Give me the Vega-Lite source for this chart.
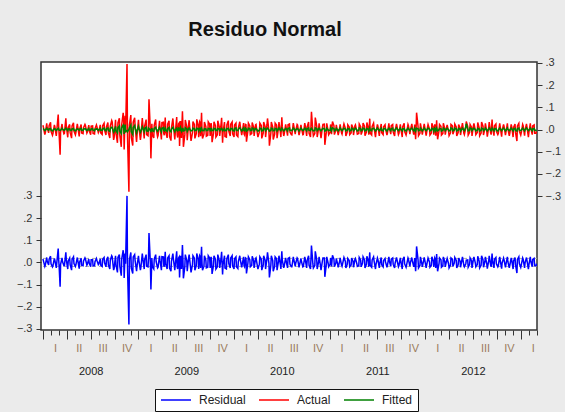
{
"$schema":"https://vega.github.io/schema/vega-lite/v6.json",
"width":496,"height":268,
"autosize":"none",
"padding":{"left":41,"top":62,"right":28,"bottom":82},
"background":"#ebebeb",
"title":{"text":"Residuo Normal","font":"Liberation Sans","fontSize":20,"fontWeight":"bold","color":"#111111","anchor":"middle","frame":"group","baseline":"alphabetic","offset":1,"dx":-24},
"config":{"view":{"stroke":"#333333","strokeWidth":1.5,"fill":"#ffffff"},"axis":{"labelFont":"Liberation Sans","labelFontSize":11,"labelColor":"#333333","tickColor":"#333333","tickWidth":1,"grid":false,"domain":false}},
"datasets":{
"bands":[{"v":0.018},{"v":-0.018}],
"main":[
{"t":2008.00,"r":0.015,"a":0.019,"f":0.004},
{"t":2008.02,"r":-0.018,"a":-0.023,"f":-0.005},
{"t":2008.04,"r":0.022,"a":0.028,"f":0.006},
{"t":2008.06,"r":-0.012,"a":-0.015,"f":-0.003},
{"t":2008.08,"r":0.028,"a":0.033,"f":0.005},
{"t":2008.10,"r":-0.02,"a":-0.026,"f":-0.006},
{"t":2008.12,"r":0.018,"a":0.021,"f":0.003},
{"t":2008.14,"r":-0.025,"a":-0.029,"f":-0.004},
{"t":2008.16,"r":0.062,"a":0.068,"f":0.006},
{"t":2008.17,"r":-0.02,"a":-0.023,"f":-0.003},
{"t":2008.18,"r":-0.11,"a":-0.114,"f":-0.004},
{"t":2008.20,"r":0.02,"a":0.025,"f":0.005},
{"t":2008.22,"r":-0.015,"a":-0.019,"f":-0.004},
{"t":2008.24,"r":0.045,"a":0.051,"f":0.006},
{"t":2008.26,"r":-0.03,"a":-0.035,"f":-0.005},
{"t":2008.28,"r":0.02,"a":0.023,"f":0.003},
{"t":2008.30,"r":-0.035,"a":-0.039,"f":-0.004},
{"t":2008.32,"r":0.025,"a":0.03,"f":0.005},
{"t":2008.34,"r":-0.018,"a":-0.024,"f":-0.006},
{"t":2008.36,"r":0.022,"a":0.026,"f":0.004},
{"t":2008.38,"r":-0.028,"a":-0.031,"f":-0.003},
{"t":2008.40,"r":0.018,"a":0.023,"f":0.005},
{"t":2008.42,"r":-0.015,"a":-0.019,"f":-0.004},
{"t":2008.44,"r":0.02,"a":0.023,"f":0.003},
{"t":2008.46,"r":-0.012,"a":-0.016,"f":-0.004},
{"t":2008.48,"r":0.015,"a":0.02,"f":0.005},
{"t":2008.50,"r":-0.02,"a":-0.023,"f":-0.003},
{"t":2008.52,"r":0.012,"a":0.016,"f":0.004},
{"t":2008.54,"r":-0.015,"a":-0.02,"f":-0.005},
{"t":2008.56,"r":0.018,"a":0.021,"f":0.003},
{"t":2008.58,"r":-0.01,"a":-0.014,"f":-0.004},
{"t":2008.60,"r":0.016,"a":0.021,"f":0.005},
{"t":2008.62,"r":-0.018,"a":-0.022,"f":-0.004},
{"t":2008.64,"r":0.022,"a":0.028,"f":0.006},
{"t":2008.66,"r":-0.02,"a":-0.025,"f":-0.005},
{"t":2008.68,"r":0.025,"a":0.032,"f":0.007},
{"t":2008.70,"r":-0.03,"a":-0.038,"f":-0.008},
{"t":2008.72,"r":0.03,"a":0.04,"f":0.01},
{"t":2008.74,"r":-0.035,"a":-0.047,"f":-0.012},
{"t":2008.76,"r":0.03,"a":0.044,"f":0.014},
{"t":2008.78,"r":-0.045,"a":-0.06,"f":-0.015},
{"t":2008.80,"r":0.035,"a":0.051,"f":0.016},
{"t":2008.82,"r":-0.06,"a":-0.078,"f":-0.018},
{"t":2008.84,"r":0.055,"a":0.075,"f":0.02},
{"t":2008.85,"r":-0.07,"a":-0.09,"f":-0.02},
{"t":2008.86,"r":0.04,"a":0.062,"f":0.022},
{"t":2008.88,"r":0.30,"a":0.295,"f":-0.005},
{"t":2008.90,"r":-0.28,"a":-0.28,"f":0.0},
{"t":2008.92,"r":0.045,"a":0.065,"f":0.02},
{"t":2008.94,"r":-0.05,"a":-0.072,"f":-0.022},
{"t":2008.96,"r":0.035,"a":0.053,"f":0.018},
{"t":2008.98,"r":-0.04,"a":-0.056,"f":-0.016},
{"t":2009.00,"r":0.03,"a":0.044,"f":0.014},
{"t":2009.02,"r":-0.035,"a":-0.047,"f":-0.012},
{"t":2009.04,"r":0.04,"a":0.052,"f":0.012},
{"t":2009.06,"r":-0.03,"a":-0.04,"f":-0.01},
{"t":2009.08,"r":0.035,"a":0.045,"f":0.01},
{"t":2009.10,"r":-0.02,"a":-0.028,"f":-0.008},
{"t":2009.11,"r":0.132,"a":0.136,"f":0.004},
{"t":2009.13,"r":-0.122,"a":-0.13,"f":-0.008},
{"t":2009.14,"r":0.02,"a":0.026,"f":0.006},
{"t":2009.16,"r":-0.03,"a":-0.038,"f":-0.008},
{"t":2009.18,"r":0.035,"a":0.045,"f":0.01},
{"t":2009.20,"r":-0.025,"a":-0.033,"f":-0.008},
{"t":2009.22,"r":0.03,"a":0.039,"f":0.009},
{"t":2009.24,"r":-0.035,"a":-0.045,"f":-0.01},
{"t":2009.26,"r":0.025,"a":0.033,"f":0.008},
{"t":2009.27,"r":-0.02,"a":-0.026,"f":-0.006},
{"t":2009.28,"r":0.048,"a":0.054,"f":0.006},
{"t":2009.30,"r":-0.03,"a":-0.038,"f":-0.008},
{"t":2009.32,"r":0.03,"a":0.039,"f":0.009},
{"t":2009.34,"r":-0.04,"a":-0.05,"f":-0.01},
{"t":2009.36,"r":0.04,"a":0.05,"f":0.01},
{"t":2009.38,"r":-0.035,"a":-0.045,"f":-0.01},
{"t":2009.40,"r":0.05,"a":0.056,"f":0.006},
{"t":2009.41,"r":-0.03,"a":-0.036,"f":-0.006},
{"t":2009.42,"r":0.02,"a":0.026,"f":0.006},
{"t":2009.43,"r":-0.068,"a":-0.074,"f":-0.006},
{"t":2009.44,"r":0.03,"a":0.038,"f":0.008},
{"t":2009.45,"r":-0.03,"a":-0.038,"f":-0.008},
{"t":2009.46,"r":0.078,"a":0.082,"f":0.004},
{"t":2009.47,"r":-0.072,"a":-0.078,"f":-0.006},
{"t":2009.49,"r":0.035,"a":0.043,"f":0.008},
{"t":2009.51,"r":-0.04,"a":-0.048,"f":-0.008},
{"t":2009.53,"r":0.035,"a":0.042,"f":0.007},
{"t":2009.55,"r":-0.045,"a":-0.051,"f":-0.006},
{"t":2009.57,"r":0.03,"a":0.036,"f":0.006},
{"t":2009.59,"r":-0.035,"a":-0.04,"f":-0.005},
{"t":2009.61,"r":0.04,"a":0.046,"f":0.006},
{"t":2009.63,"r":-0.03,"a":-0.035,"f":-0.005},
{"t":2009.64,"r":0.03,"a":0.035,"f":0.005},
{"t":2009.65,"r":-0.025,"a":-0.03,"f":-0.005},
{"t":2009.66,"r":0.07,"a":0.075,"f":0.005},
{"t":2009.67,"r":-0.035,"a":-0.04,"f":-0.005},
{"t":2009.69,"r":0.03,"a":0.034,"f":0.004},
{"t":2009.71,"r":-0.025,"a":-0.03,"f":-0.005},
{"t":2009.73,"r":0.03,"a":0.035,"f":0.005},
{"t":2009.75,"r":-0.025,"a":-0.029,"f":-0.004},
{"t":2009.76,"r":0.025,"a":0.029,"f":0.004},
{"t":2009.77,"r":-0.052,"a":-0.057,"f":-0.005},
{"t":2009.79,"r":0.03,"a":0.035,"f":0.005},
{"t":2009.81,"r":-0.03,"a":-0.034,"f":-0.004},
{"t":2009.83,"r":0.035,"a":0.04,"f":0.005},
{"t":2009.85,"r":-0.025,"a":-0.029,"f":-0.004},
{"t":2009.87,"r":0.048,"a":0.053,"f":0.005},
{"t":2009.88,"r":-0.055,"a":-0.06,"f":-0.005},
{"t":2009.90,"r":0.03,"a":0.034,"f":0.004},
{"t":2009.92,"r":-0.03,"a":-0.034,"f":-0.004},
{"t":2009.94,"r":0.035,"a":0.04,"f":0.005},
{"t":2009.96,"r":-0.025,"a":-0.029,"f":-0.004},
{"t":2009.98,"r":0.03,"a":0.034,"f":0.004},
{"t":2010.00,"r":-0.03,"a":-0.034,"f":-0.006},
{"t":2010.02,"r":0.025,"a":0.029,"f":0.007},
{"t":2010.04,"r":-0.028,"a":-0.032,"f":-0.005},
{"t":2010.06,"r":0.03,"a":0.035,"f":0.008},
{"t":2010.08,"r":-0.022,"a":-0.025,"f":-0.006},
{"t":2010.10,"r":0.025,"a":0.029,"f":0.007},
{"t":2010.11,"r":-0.02,"a":-0.024,"f":-0.005},
{"t":2010.12,"r":0.02,"a":0.023,"f":0.006},
{"t":2010.13,"r":-0.05,"a":-0.055,"f":-0.007},
{"t":2010.15,"r":0.025,"a":0.029,"f":0.006},
{"t":2010.17,"r":-0.02,"a":-0.023,"f":-0.005},
{"t":2010.19,"r":0.028,"a":0.032,"f":0.007},
{"t":2010.21,"r":-0.025,"a":-0.029,"f":-0.006},
{"t":2010.23,"r":0.02,"a":0.023,"f":0.005},
{"t":2010.25,"r":-0.03,"a":-0.034,"f":-0.007},
{"t":2010.27,"r":0.025,"a":0.029,"f":0.006},
{"t":2010.29,"r":-0.035,"a":-0.04,"f":-0.006},
{"t":2010.31,"r":0.03,"a":0.034,"f":0.007},
{"t":2010.33,"r":-0.03,"a":-0.034,"f":-0.005},
{"t":2010.35,"r":0.045,"a":0.05,"f":0.006},
{"t":2010.37,"r":-0.068,"a":-0.073,"f":-0.007},
{"t":2010.39,"r":0.03,"a":0.034,"f":0.006},
{"t":2010.41,"r":-0.04,"a":-0.045,"f":-0.006},
{"t":2010.43,"r":0.025,"a":0.029,"f":0.005},
{"t":2010.45,"r":-0.035,"a":-0.039,"f":-0.006},
{"t":2010.47,"r":0.03,"a":0.034,"f":0.007},
{"t":2010.49,"r":-0.03,"a":-0.034,"f":-0.005},
{"t":2010.50,"r":0.05,"a":0.055,"f":0.006},
{"t":2010.52,"r":-0.025,"a":-0.029,"f":-0.006},
{"t":2010.54,"r":0.02,"a":0.023,"f":0.005},
{"t":2010.56,"r":-0.025,"a":-0.028,"f":-0.006},
{"t":2010.58,"r":0.022,"a":0.025,"f":0.007},
{"t":2010.60,"r":-0.02,"a":-0.023,"f":-0.005},
{"t":2010.62,"r":0.025,"a":0.029,"f":0.006},
{"t":2010.64,"r":-0.018,"a":-0.021,"f":-0.006},
{"t":2010.66,"r":0.02,"a":0.023,"f":0.005},
{"t":2010.68,"r":-0.022,"a":-0.025,"f":-0.007},
{"t":2010.70,"r":0.018,"a":0.021,"f":0.006},
{"t":2010.72,"r":-0.02,"a":-0.023,"f":-0.005},
{"t":2010.74,"r":0.025,"a":0.029,"f":0.006},
{"t":2010.76,"r":-0.025,"a":-0.029,"f":-0.006},
{"t":2010.78,"r":0.03,"a":0.034,"f":0.007},
{"t":2010.80,"r":-0.03,"a":-0.034,"f":-0.005},
{"t":2010.81,"r":0.076,"a":0.08,"f":0.006},
{"t":2010.83,"r":-0.025,"a":-0.029,"f":-0.006},
{"t":2010.85,"r":0.05,"a":0.054,"f":0.007},
{"t":2010.87,"r":-0.03,"a":-0.034,"f":-0.005},
{"t":2010.89,"r":0.025,"a":0.028,"f":0.006},
{"t":2010.91,"r":-0.035,"a":-0.039,"f":-0.006},
{"t":2010.93,"r":0.02,"a":0.023,"f":0.005},
{"t":2010.95,"r":-0.065,"a":-0.069,"f":-0.007},
{"t":2010.97,"r":0.025,"a":0.028,"f":0.006},
{"t":2010.99,"r":-0.02,"a":-0.023,"f":-0.005},
{"t":2011.01,"r":0.02,"a":0.023,"f":0.006},
{"t":2011.02,"r":-0.018,"a":-0.021,"f":-0.005},
{"t":2011.03,"r":0.032,"a":0.036,"f":0.007},
{"t":2011.05,"r":-0.02,"a":-0.023,"f":-0.006},
{"t":2011.07,"r":0.018,"a":0.021,"f":0.005},
{"t":2011.09,"r":-0.022,"a":-0.025,"f":-0.006},
{"t":2011.11,"r":0.02,"a":0.023,"f":0.007},
{"t":2011.13,"r":-0.018,"a":-0.021,"f":-0.005},
{"t":2011.15,"r":0.022,"a":0.025,"f":0.006},
{"t":2011.17,"r":-0.025,"a":-0.029,"f":-0.006},
{"t":2011.19,"r":0.018,"a":0.021,"f":0.005},
{"t":2011.21,"r":-0.02,"a":-0.023,"f":-0.007},
{"t":2011.23,"r":0.02,"a":0.023,"f":0.006},
{"t":2011.25,"r":-0.022,"a":-0.025,"f":-0.005},
{"t":2011.27,"r":0.018,"a":0.021,"f":0.006},
{"t":2011.29,"r":-0.018,"a":-0.021,"f":-0.006},
{"t":2011.31,"r":0.022,"a":0.025,"f":0.007},
{"t":2011.33,"r":-0.02,"a":-0.023,"f":-0.005},
{"t":2011.35,"r":0.025,"a":0.029,"f":0.006},
{"t":2011.37,"r":-0.025,"a":-0.028,"f":-0.006},
{"t":2011.39,"r":0.028,"a":0.032,"f":0.005},
{"t":2011.41,"r":-0.02,"a":-0.023,"f":-0.007},
{"t":2011.42,"r":0.045,"a":0.049,"f":0.006},
{"t":2011.44,"r":-0.022,"a":-0.025,"f":-0.005},
{"t":2011.46,"r":0.025,"a":0.029,"f":0.006},
{"t":2011.48,"r":-0.03,"a":-0.034,"f":-0.006},
{"t":2011.50,"r":0.02,"a":0.023,"f":0.007},
{"t":2011.52,"r":-0.025,"a":-0.029,"f":-0.005},
{"t":2011.54,"r":0.022,"a":0.025,"f":0.006},
{"t":2011.56,"r":-0.02,"a":-0.023,"f":-0.006},
{"t":2011.58,"r":0.018,"a":0.021,"f":0.005},
{"t":2011.60,"r":-0.022,"a":-0.025,"f":-0.007},
{"t":2011.62,"r":0.025,"a":0.028,"f":0.006},
{"t":2011.64,"r":-0.018,"a":-0.021,"f":-0.005},
{"t":2011.66,"r":0.02,"a":0.023,"f":0.006},
{"t":2011.68,"r":-0.025,"a":-0.029,"f":-0.006},
{"t":2011.70,"r":0.022,"a":0.025,"f":0.007},
{"t":2011.72,"r":-0.02,"a":-0.023,"f":-0.005},
{"t":2011.74,"r":0.02,"a":0.023,"f":0.006},
{"t":2011.76,"r":-0.03,"a":-0.034,"f":-0.006},
{"t":2011.78,"r":0.025,"a":0.028,"f":0.005},
{"t":2011.80,"r":-0.022,"a":-0.025,"f":-0.007},
{"t":2011.82,"r":0.02,"a":0.023,"f":0.006},
{"t":2011.84,"r":-0.018,"a":-0.021,"f":-0.005},
{"t":2011.86,"r":0.022,"a":0.025,"f":0.006},
{"t":2011.88,"r":-0.02,"a":-0.023,"f":-0.006},
{"t":2011.89,"r":0.02,"a":0.023,"f":0.005},
{"t":2011.90,"r":-0.04,"a":-0.044,"f":-0.007},
{"t":2011.91,"r":0.072,"a":0.076,"f":0.006},
{"t":2011.93,"r":-0.025,"a":-0.028,"f":-0.005},
{"t":2011.95,"r":0.025,"a":0.028,"f":0.006},
{"t":2011.97,"r":-0.02,"a":-0.023,"f":-0.006},
{"t":2011.99,"r":0.022,"a":0.025,"f":0.007},
{"t":2012.01,"r":-0.025,"a":-0.028,"f":-0.005},
{"t":2012.03,"r":0.02,"a":0.023,"f":0.006},
{"t":2012.05,"r":-0.022,"a":-0.025,"f":-0.006},
{"t":2012.07,"r":0.025,"a":0.028,"f":0.005},
{"t":2012.09,"r":-0.02,"a":-0.023,"f":-0.007},
{"t":2012.10,"r":0.02,"a":0.023,"f":0.006},
{"t":2012.11,"r":-0.025,"a":-0.028,"f":-0.005},
{"t":2012.12,"r":0.038,"a":0.042,"f":0.006},
{"t":2012.13,"r":-0.04,"a":-0.044,"f":-0.006},
{"t":2012.15,"r":0.02,"a":0.023,"f":0.005},
{"t":2012.17,"r":-0.022,"a":-0.025,"f":-0.007},
{"t":2012.19,"r":0.025,"a":0.028,"f":0.006},
{"t":2012.21,"r":-0.02,"a":-0.023,"f":-0.005},
{"t":2012.23,"r":0.018,"a":0.021,"f":0.006},
{"t":2012.25,"r":-0.025,"a":-0.028,"f":-0.006},
{"t":2012.27,"r":0.02,"a":0.023,"f":0.007},
{"t":2012.29,"r":-0.018,"a":-0.021,"f":-0.005},
{"t":2012.31,"r":0.022,"a":0.025,"f":0.006},
{"t":2012.33,"r":-0.025,"a":-0.029,"f":-0.006},
{"t":2012.35,"r":0.02,"a":0.023,"f":0.005},
{"t":2012.37,"r":-0.022,"a":-0.025,"f":-0.007},
{"t":2012.39,"r":0.025,"a":0.029,"f":0.006},
{"t":2012.41,"r":-0.02,"a":-0.023,"f":-0.005},
{"t":2012.43,"r":0.01,"a":0.036,"f":0.026},
{"t":2012.45,"r":-0.022,"a":-0.025,"f":-0.006},
{"t":2012.47,"r":0.02,"a":0.023,"f":0.007},
{"t":2012.49,"r":-0.025,"a":-0.029,"f":-0.005},
{"t":2012.51,"r":0.025,"a":0.028,"f":0.006},
{"t":2012.53,"r":-0.02,"a":-0.023,"f":-0.006},
{"t":2012.55,"r":0.028,"a":0.032,"f":0.005},
{"t":2012.57,"r":-0.025,"a":-0.028,"f":-0.007},
{"t":2012.59,"r":0.03,"a":0.034,"f":0.006},
{"t":2012.61,"r":-0.022,"a":-0.025,"f":-0.005},
{"t":2012.63,"r":0.025,"a":0.028,"f":0.006},
{"t":2012.65,"r":-0.028,"a":-0.032,"f":-0.006},
{"t":2012.67,"r":0.03,"a":0.034,"f":0.007},
{"t":2012.69,"r":-0.02,"a":-0.023,"f":-0.005},
{"t":2012.70,"r":0.04,"a":0.045,"f":0.006},
{"t":2012.72,"r":-0.025,"a":-0.028,"f":-0.006},
{"t":2012.74,"r":0.022,"a":0.025,"f":0.005},
{"t":2012.76,"r":-0.02,"a":-0.023,"f":-0.007},
{"t":2012.78,"r":0.025,"a":0.028,"f":0.006},
{"t":2012.80,"r":-0.028,"a":-0.032,"f":-0.005},
{"t":2012.82,"r":0.02,"a":0.023,"f":0.006},
{"t":2012.84,"r":-0.022,"a":-0.025,"f":-0.006},
{"t":2012.86,"r":0.025,"a":0.028,"f":0.007},
{"t":2012.88,"r":-0.025,"a":-0.028,"f":-0.005},
{"t":2012.90,"r":0.02,"a":0.023,"f":0.006},
{"t":2012.92,"r":-0.03,"a":-0.034,"f":-0.006},
{"t":2012.94,"r":0.022,"a":0.025,"f":0.005},
{"t":2012.96,"r":-0.048,"a":-0.052,"f":-0.007},
{"t":2012.98,"r":0.025,"a":0.028,"f":0.006},
{"t":2013.00,"r":-0.022,"a":-0.025,"f":-0.005},
{"t":2013.02,"r":0.02,"a":0.023,"f":0.006},
{"t":2013.04,"r":-0.025,"a":-0.028,"f":-0.006},
{"t":2013.06,"r":0.022,"a":0.025,"f":0.007},
{"t":2013.08,"r":-0.03,"a":-0.034,"f":-0.005},
{"t":2013.10,"r":0.025,"a":0.028,"f":0.006},
{"t":2013.12,"r":-0.02,"a":-0.023,"f":-0.006},
{"t":2013.14,"r":0.018,"a":0.021,"f":0.005},
{"t":2013.16,"r":-0.015,"a":-0.017,"f":-0.004},
{"t":2008.005,"r":0.008,"a":0.011,"f":0.003},
{"t":2008.025,"r":-0.012,"a":-0.015,"f":-0.003},
{"t":2008.045,"r":0.005,"a":0.007,"f":0.002},
{"t":2008.065,"r":0.014,"a":0.017,"f":0.003},
{"t":2008.085,"r":-0.006,"a":-0.008,"f":-0.002},
{"t":2008.105,"r":-0.015,"a":-0.018,"f":-0.003},
{"t":2008.125,"r":0.01,"a":0.013,"f":0.003},
{"t":2008.145,"r":-0.003,"a":-0.005,"f":-0.002},
{"t":2008.165,"r":0.012,"a":0.015,"f":0.003},
{"t":2008.185,"r":-0.009,"a":-0.012,"f":-0.003},
{"t":2008.205,"r":0.004,"a":0.006,"f":0.002},
{"t":2008.225,"r":-0.014,"a":-0.017,"f":-0.003},
{"t":2008.245,"r":0.011,"a":0.014,"f":0.003},
{"t":2008.265,"r":0.007,"a":0.009,"f":0.002},
{"t":2008.285,"r":-0.01,"a":-0.013,"f":-0.003},
{"t":2008.305,"r":0.013,"a":0.016,"f":0.003},
{"t":2008.325,"r":-0.005,"a":-0.007,"f":-0.002},
{"t":2008.345,"r":-0.011,"a":-0.014,"f":-0.003},
{"t":2008.365,"r":0.009,"a":0.012,"f":0.003},
{"t":2008.385,"r":0.002,"a":0.003,"f":0.001},
{"t":2008.405,"r":-0.013,"a":-0.016,"f":-0.003},
{"t":2008.425,"r":0.006,"a":0.008,"f":0.002},
{"t":2008.445,"r":0.015,"a":0.018,"f":0.003},
{"t":2008.465,"r":-0.008,"a":-0.011,"f":-0.003},
{"t":2008.485,"r":-0.004,"a":-0.006,"f":-0.002},
{"t":2008.505,"r":0.012,"a":0.015,"f":0.003},
{"t":2008.525,"r":-0.015,"a":-0.018,"f":-0.003},
{"t":2008.545,"r":0.003,"a":0.004,"f":0.001},
{"t":2008.565,"r":0.01,"a":0.013,"f":0.003},
{"t":2008.585,"r":-0.007,"a":-0.009,"f":-0.002},
{"t":2008.605,"r":-0.012,"a":-0.015,"f":-0.003},
{"t":2008.625,"r":0.014,"a":0.017,"f":0.003},
{"t":2008.645,"r":-0.002,"a":-0.003,"f":-0.001},
{"t":2008.665,"r":0.009,"a":0.012,"f":0.003},
{"t":2008.685,"r":-0.011,"a":-0.014,"f":-0.003},
{"t":2008.705,"r":0.01,"a":0.015,"f":0.005},
{"t":2008.725,"r":0.026,"a":0.034,"f":0.008},
{"t":2008.745,"r":-0.028,"a":-0.037,"f":-0.009},
{"t":2008.765,"r":-0.012,"a":-0.017,"f":-0.005},
{"t":2008.785,"r":0.022,"a":0.03,"f":0.008},
{"t":2008.805,"r":-0.018,"a":-0.025,"f":-0.007},
{"t":2008.825,"r":0.016,"a":0.024,"f":0.008},
{"t":2008.845,"r":0.03,"a":0.042,"f":0.012},
{"t":2008.865,"r":-0.006,"a":-0.014,"f":-0.008},
{"t":2008.885,"r":-0.02,"a":-0.03,"f":-0.01},
{"t":2008.905,"r":0.012,"a":0.02,"f":0.008},
{"t":2008.925,"r":-0.026,"a":-0.036,"f":-0.01},
{"t":2008.945,"r":0.024,"a":0.033,"f":0.009},
{"t":2008.965,"r":0.008,"a":0.013,"f":0.005},
{"t":2008.985,"r":-0.016,"a":-0.023,"f":-0.007},
{"t":2009.005,"r":0.007,"a":0.012,"f":0.005},
{"t":2009.025,"r":-0.024,"a":-0.031,"f":-0.007},
{"t":2009.045,"r":0.019,"a":0.025,"f":0.006},
{"t":2009.065,"r":0.012,"a":0.017,"f":0.005},
{"t":2009.085,"r":-0.017,"a":-0.023,"f":-0.006},
{"t":2009.105,"r":0.022,"a":0.028,"f":0.006},
{"t":2009.125,"r":-0.009,"a":-0.013,"f":-0.004},
{"t":2009.145,"r":-0.019,"a":-0.024,"f":-0.005},
{"t":2009.165,"r":0.015,"a":0.02,"f":0.005},
{"t":2009.185,"r":0.003,"a":0.005,"f":0.002},
{"t":2009.205,"r":-0.022,"a":-0.027,"f":-0.005},
{"t":2009.225,"r":0.01,"a":0.014,"f":0.004},
{"t":2009.245,"r":0.026,"a":0.031,"f":0.005},
{"t":2009.265,"r":-0.014,"a":-0.018,"f":-0.004},
{"t":2009.285,"r":-0.007,"a":-0.01,"f":-0.003},
{"t":2009.305,"r":0.02,"a":0.024,"f":0.004},
{"t":2009.325,"r":-0.026,"a":-0.031,"f":-0.005},
{"t":2009.345,"r":0.005,"a":0.007,"f":0.002},
{"t":2009.365,"r":0.017,"a":0.021,"f":0.004},
{"t":2009.385,"r":-0.012,"a":-0.016,"f":-0.004},
{"t":2009.405,"r":-0.02,"a":-0.024,"f":-0.004},
{"t":2009.425,"r":0.024,"a":0.029,"f":0.005},
{"t":2009.445,"r":-0.003,"a":-0.005,"f":-0.002},
{"t":2009.465,"r":0.015,"a":0.019,"f":0.004},
{"t":2009.485,"r":-0.019,"a":-0.023,"f":-0.004},
{"t":2009.505,"r":0.009,"a":0.012,"f":0.003},
{"t":2009.525,"r":0.022,"a":0.026,"f":0.004},
{"t":2009.545,"r":-0.024,"a":-0.029,"f":-0.005},
{"t":2009.565,"r":-0.01,"a":-0.013,"f":-0.003},
{"t":2009.585,"r":0.019,"a":0.023,"f":0.004},
{"t":2009.605,"r":-0.015,"a":-0.019,"f":-0.004},
{"t":2009.625,"r":0.014,"a":0.018,"f":0.004},
{"t":2009.645,"r":0.026,"a":0.031,"f":0.005},
{"t":2009.665,"r":-0.005,"a":-0.007,"f":-0.002},
{"t":2009.685,"r":-0.017,"a":-0.021,"f":-0.004},
{"t":2009.705,"r":0.01,"a":0.013,"f":0.003},
{"t":2009.725,"r":-0.022,"a":-0.026,"f":-0.004},
{"t":2009.745,"r":0.02,"a":0.024,"f":0.004},
{"t":2009.765,"r":0.007,"a":0.01,"f":0.003},
{"t":2009.785,"r":-0.014,"a":-0.018,"f":-0.004},
{"t":2009.805,"r":0.014,"a":0.018,"f":0.004},
{"t":2009.825,"r":-0.02,"a":-0.024,"f":-0.004},
{"t":2009.845,"r":0.009,"a":0.012,"f":0.003},
{"t":2009.865,"r":0.024,"a":0.028,"f":0.004},
{"t":2009.885,"r":-0.01,"a":-0.013,"f":-0.003},
{"t":2009.905,"r":-0.026,"a":-0.031,"f":-0.005},
{"t":2009.925,"r":0.017,"a":0.021,"f":0.004},
{"t":2009.945,"r":-0.005,"a":-0.007,"f":-0.002},
{"t":2009.965,"r":0.02,"a":0.024,"f":0.004},
{"t":2009.985,"r":-0.015,"a":-0.019,"f":-0.004},
{"t":2010.005,"r":0.016,"a":0.02,"f":0.004},
{"t":2010.025,"r":-0.02,"a":-0.024,"f":-0.004},
{"t":2010.045,"r":0.004,"a":0.006,"f":0.002},
{"t":2010.065,"r":0.013,"a":0.017,"f":0.004},
{"t":2010.085,"r":-0.009,"a":-0.012,"f":-0.003},
{"t":2010.105,"r":-0.016,"a":-0.02,"f":-0.004},
{"t":2010.125,"r":0.018,"a":0.022,"f":0.004},
{"t":2010.145,"r":-0.003,"a":-0.005,"f":-0.002},
{"t":2010.165,"r":0.012,"a":0.016,"f":0.004},
{"t":2010.185,"r":-0.014,"a":-0.018,"f":-0.004},
{"t":2010.205,"r":0.007,"a":0.01,"f":0.003},
{"t":2010.225,"r":0.017,"a":0.021,"f":0.004},
{"t":2010.245,"r":-0.018,"a":-0.022,"f":-0.004},
{"t":2010.265,"r":-0.008,"a":-0.011,"f":-0.003},
{"t":2010.285,"r":0.014,"a":0.018,"f":0.004},
{"t":2010.305,"r":-0.012,"a":-0.016,"f":-0.004},
{"t":2010.325,"r":0.01,"a":0.013,"f":0.003},
{"t":2010.345,"r":0.02,"a":0.024,"f":0.004},
{"t":2010.365,"r":-0.004,"a":-0.006,"f":-0.002},
{"t":2010.385,"r":-0.013,"a":-0.017,"f":-0.004},
{"t":2010.405,"r":0.008,"a":0.011,"f":0.003},
{"t":2010.425,"r":-0.017,"a":-0.021,"f":-0.004},
{"t":2010.445,"r":0.016,"a":0.02,"f":0.004},
{"t":2010.465,"r":0.005,"a":0.007,"f":0.002},
{"t":2010.485,"r":-0.01,"a":-0.013,"f":-0.003},
{"t":2010.505,"r":0.01,"a":0.013,"f":0.003},
{"t":2010.525,"r":-0.016,"a":-0.02,"f":-0.004},
{"t":2010.545,"r":0.007,"a":0.01,"f":0.003},
{"t":2010.565,"r":0.018,"a":0.022,"f":0.004},
{"t":2010.585,"r":-0.008,"a":-0.011,"f":-0.003},
{"t":2010.605,"r":-0.02,"a":-0.024,"f":-0.004},
{"t":2010.625,"r":0.013,"a":0.017,"f":0.004},
{"t":2010.645,"r":-0.004,"a":-0.006,"f":-0.002},
{"t":2010.665,"r":0.016,"a":0.02,"f":0.004},
{"t":2010.685,"r":-0.012,"a":-0.016,"f":-0.004},
{"t":2010.705,"r":0.005,"a":0.007,"f":0.002},
{"t":2010.725,"r":-0.018,"a":-0.022,"f":-0.004},
{"t":2010.745,"r":0.014,"a":0.018,"f":0.004},
{"t":2010.765,"r":0.009,"a":0.012,"f":0.003},
{"t":2010.785,"r":-0.013,"a":-0.017,"f":-0.004},
{"t":2010.805,"r":0.017,"a":0.021,"f":0.004},
{"t":2010.825,"r":-0.007,"a":-0.01,"f":-0.003},
{"t":2010.845,"r":-0.014,"a":-0.018,"f":-0.004},
{"t":2010.865,"r":0.012,"a":0.016,"f":0.004},
{"t":2010.885,"r":0.003,"a":0.005,"f":0.002},
{"t":2010.905,"r":-0.017,"a":-0.021,"f":-0.004},
{"t":2010.925,"r":0.008,"a":0.011,"f":0.003},
{"t":2010.945,"r":0.02,"a":0.024,"f":0.004},
{"t":2010.965,"r":-0.01,"a":-0.013,"f":-0.003},
{"t":2010.985,"r":-0.005,"a":-0.007,"f":-0.002},
{"t":2011.005,"r":-0.009,"a":-0.012,"f":-0.003},
{"t":2011.025,"r":0.008,"a":0.011,"f":0.003},
{"t":2011.045,"r":0.015,"a":0.018,"f":0.003},
{"t":2011.065,"r":-0.003,"a":-0.004,"f":-0.001},
{"t":2011.085,"r":-0.01,"a":-0.013,"f":-0.003},
{"t":2011.105,"r":0.006,"a":0.008,"f":0.002},
{"t":2011.125,"r":-0.013,"a":-0.016,"f":-0.003},
{"t":2011.145,"r":0.012,"a":0.015,"f":0.003},
{"t":2011.165,"r":0.004,"a":0.005,"f":0.001},
{"t":2011.185,"r":-0.008,"a":-0.011,"f":-0.003},
{"t":2011.205,"r":0.008,"a":0.011,"f":0.003},
{"t":2011.225,"r":-0.012,"a":-0.015,"f":-0.003},
{"t":2011.245,"r":0.005,"a":0.007,"f":0.002},
{"t":2011.265,"r":0.014,"a":0.017,"f":0.003},
{"t":2011.285,"r":-0.006,"a":-0.008,"f":-0.002},
{"t":2011.305,"r":-0.015,"a":-0.018,"f":-0.003},
{"t":2011.325,"r":0.01,"a":0.013,"f":0.003},
{"t":2011.345,"r":-0.003,"a":-0.004,"f":-0.001},
{"t":2011.365,"r":0.012,"a":0.015,"f":0.003},
{"t":2011.385,"r":-0.009,"a":-0.012,"f":-0.003},
{"t":2011.405,"r":0.004,"a":0.005,"f":0.001},
{"t":2011.425,"r":-0.014,"a":-0.017,"f":-0.003},
{"t":2011.445,"r":0.011,"a":0.014,"f":0.003},
{"t":2011.465,"r":0.007,"a":0.009,"f":0.002},
{"t":2011.485,"r":-0.01,"a":-0.013,"f":-0.003},
{"t":2011.505,"r":0.013,"a":0.016,"f":0.003},
{"t":2011.525,"r":-0.005,"a":-0.007,"f":-0.002},
{"t":2011.545,"r":-0.011,"a":-0.014,"f":-0.003},
{"t":2011.565,"r":0.009,"a":0.012,"f":0.003},
{"t":2011.585,"r":0.002,"a":0.003,"f":0.001},
{"t":2011.605,"r":-0.013,"a":-0.016,"f":-0.003},
{"t":2011.625,"r":0.006,"a":0.008,"f":0.002},
{"t":2011.645,"r":0.015,"a":0.018,"f":0.003},
{"t":2011.665,"r":-0.008,"a":-0.011,"f":-0.003},
{"t":2011.685,"r":-0.004,"a":-0.005,"f":-0.001},
{"t":2011.705,"r":0.012,"a":0.015,"f":0.003},
{"t":2011.725,"r":-0.015,"a":-0.018,"f":-0.003},
{"t":2011.745,"r":0.003,"a":0.004,"f":0.001},
{"t":2011.765,"r":0.01,"a":0.013,"f":0.003},
{"t":2011.785,"r":-0.007,"a":-0.009,"f":-0.002},
{"t":2011.805,"r":-0.012,"a":-0.015,"f":-0.003},
{"t":2011.825,"r":0.014,"a":0.017,"f":0.003},
{"t":2011.845,"r":-0.002,"a":-0.003,"f":-0.001},
{"t":2011.865,"r":0.009,"a":0.012,"f":0.003},
{"t":2011.885,"r":-0.011,"a":-0.014,"f":-0.003},
{"t":2011.905,"r":0.005,"a":0.007,"f":0.002},
{"t":2011.925,"r":0.013,"a":0.016,"f":0.003},
{"t":2011.945,"r":-0.014,"a":-0.017,"f":-0.003},
{"t":2011.965,"r":-0.006,"a":-0.008,"f":-0.002},
{"t":2011.985,"r":0.011,"a":0.014,"f":0.003},
{"t":2012.005,"r":-0.011,"a":-0.014,"f":-0.003},
{"t":2012.025,"r":0.009,"a":0.012,"f":0.003},
{"t":2012.045,"r":0.002,"a":0.003,"f":0.001},
{"t":2012.065,"r":-0.013,"a":-0.016,"f":-0.003},
{"t":2012.085,"r":0.006,"a":0.008,"f":0.002},
{"t":2012.105,"r":0.015,"a":0.018,"f":0.003},
{"t":2012.125,"r":-0.008,"a":-0.011,"f":-0.003},
{"t":2012.145,"r":-0.004,"a":-0.005,"f":-0.001},
{"t":2012.165,"r":0.012,"a":0.015,"f":0.003},
{"t":2012.185,"r":-0.015,"a":-0.018,"f":-0.003},
{"t":2012.205,"r":0.003,"a":0.004,"f":0.001},
{"t":2012.225,"r":0.01,"a":0.013,"f":0.003},
{"t":2012.245,"r":-0.007,"a":-0.009,"f":-0.002},
{"t":2012.265,"r":-0.012,"a":-0.015,"f":-0.003},
{"t":2012.285,"r":0.014,"a":0.017,"f":0.003},
{"t":2012.305,"r":-0.002,"a":-0.003,"f":-0.001},
{"t":2012.325,"r":0.009,"a":0.012,"f":0.003},
{"t":2012.345,"r":-0.011,"a":-0.014,"f":-0.003},
{"t":2012.365,"r":0.005,"a":0.007,"f":0.002},
{"t":2012.385,"r":0.013,"a":0.016,"f":0.003},
{"t":2012.405,"r":-0.014,"a":-0.017,"f":-0.003},
{"t":2012.425,"r":-0.006,"a":0.006,"f":0.012},
{"t":2012.445,"r":0.011,"a":0.014,"f":0.003},
{"t":2012.465,"r":-0.009,"a":-0.012,"f":-0.003},
{"t":2012.485,"r":0.008,"a":0.011,"f":0.003},
{"t":2012.505,"r":0.015,"a":0.018,"f":0.003},
{"t":2012.525,"r":-0.003,"a":-0.004,"f":-0.001},
{"t":2012.545,"r":-0.01,"a":-0.013,"f":-0.003},
{"t":2012.565,"r":0.006,"a":0.008,"f":0.002},
{"t":2012.585,"r":-0.013,"a":-0.016,"f":-0.003},
{"t":2012.605,"r":0.012,"a":0.015,"f":0.003},
{"t":2012.625,"r":0.004,"a":0.005,"f":0.001},
{"t":2012.645,"r":-0.008,"a":-0.011,"f":-0.003},
{"t":2012.665,"r":0.008,"a":0.011,"f":0.003},
{"t":2012.685,"r":-0.012,"a":-0.015,"f":-0.003},
{"t":2012.705,"r":0.005,"a":0.007,"f":0.002},
{"t":2012.725,"r":0.014,"a":0.017,"f":0.003},
{"t":2012.745,"r":-0.006,"a":-0.008,"f":-0.002},
{"t":2012.765,"r":-0.015,"a":-0.018,"f":-0.003},
{"t":2012.785,"r":0.01,"a":0.013,"f":0.003},
{"t":2012.805,"r":-0.003,"a":-0.004,"f":-0.001},
{"t":2012.825,"r":0.012,"a":0.015,"f":0.003},
{"t":2012.845,"r":-0.009,"a":-0.012,"f":-0.003},
{"t":2012.865,"r":0.004,"a":0.005,"f":0.001},
{"t":2012.885,"r":-0.014,"a":-0.017,"f":-0.003},
{"t":2012.905,"r":0.011,"a":0.014,"f":0.003},
{"t":2012.925,"r":0.007,"a":0.009,"f":0.002},
{"t":2012.945,"r":-0.01,"a":-0.013,"f":-0.003},
{"t":2012.965,"r":0.013,"a":0.016,"f":0.003},
{"t":2012.985,"r":-0.005,"a":-0.007,"f":-0.002},
{"t":2013.005,"r":-0.012,"a":-0.015,"f":-0.003},
{"t":2013.025,"r":0.014,"a":0.017,"f":0.003},
{"t":2013.045,"r":-0.002,"a":-0.003,"f":-0.001},
{"t":2013.065,"r":0.009,"a":0.012,"f":0.003},
{"t":2013.085,"r":-0.011,"a":-0.014,"f":-0.003},
{"t":2013.105,"r":0.005,"a":0.007,"f":0.002},
{"t":2013.125,"r":0.013,"a":0.016,"f":0.003},
{"t":2013.145,"r":-0.014,"a":-0.017,"f":-0.003},
{"t":2013.165,"r":-0.006,"a":-0.008,"f":-0.002}
]},
"layer":[
{"data":{"name":"bands"},"mark":{"type":"rule","color":"#a8a8a8","strokeDash":[4,3],"strokeWidth":1},
 "encoding":{"y":{"field":"v","type":"quantitative","scale":{"domain":[-0.305,0.904],"nice":false,"zero":false},"axis":null}}},
{"data":{"name":"main"},"mark":{"type":"line","strokeWidth":1.5,"clip":true},
 "encoding":{
  "x":{"field":"t","type":"quantitative","scale":{"domain":[2007.98,2013.17],"nice":false,"zero":false},
   "axis":{"orient":"bottom","title":null,"values":[2008,2008.25,2008.5,2008.75,2009,2009.25,2009.5,2009.75,2010,2010.25,2010.5,2010.75,2011,2011.25,2011.5,2011.75,2012,2012.25,2012.5,2012.75,2013],
   "labelExpr":"datum.value - floor(datum.value) < 0.1 ? 'I' : datum.value - floor(datum.value) < 0.3 ? 'II' : datum.value - floor(datum.value) < 0.6 ? 'III' : 'IV'",
   "tickSize":9,"labelPadding":3,"labelOffset":12,"labelColor":"#9a7b5c","labelFontSize":11,"labelOverlap":false,"labelBound":false,"labelFlush":false}},
  "y":{"field":"r","type":"quantitative","scale":{"domain":[-0.305,0.904],"nice":false,"zero":false},
   "axis":{"orient":"left","title":null,"values":[-0.3,-0.2,-0.1,0,0.1,0.2,0.3],"labelExpr":"replace(format(datum.value, '.1f'), '0.', '.')","tickSize":5,"labelPadding":4,"labelOverlap":false,"labelBound":false,"labelFlush":false}},
  "color":{"datum":"Residual","type":"nominal","scale":{"domain":["Residual","Actual","Fitted"],"range":["#0000ff","#ff0000","#008000"]},
   "legend":{"title":null,"orient":"none","legendX":114,"legendY":327,"direction":"horizontal","symbolType":"stroke","symbolSize":900,"clipHeight":12,"symbolStrokeWidth":1.5,"labelFont":"Liberation Sans","labelFontSize":12,"labelColor":"#222222","strokeColor":"#111111","fillColor":"#ffffff","padding":5,"columnPadding":12,"labelOffset":7}}
 }},
{"data":{"name":"main"},"mark":{"type":"line","strokeWidth":1.5,"clip":true},
 "encoding":{
  "x":{"field":"t","type":"quantitative","scale":{"domain":[2007.98,2013.17],"nice":false,"zero":false},
   "axis":{"orient":"bottom","title":null,"values":[2008.5,2009.5,2010.5,2011.5,2012.5],"labelExpr":"'' + floor(datum.value)","ticks":false,"tickSize":0,"labelPadding":35,"labelColor":"#222222","labelFontSize":11,"labelOverlap":false,"labelBound":false,"labelFlush":false}},
  "y":{"field":"a","type":"quantitative","scale":{"domain":[-0.904,0.3045],"nice":false,"zero":false},
   "axis":{"orient":"right","title":null,"values":[-0.3,-0.2,-0.1,0,0.1,0.2,0.3],"labelExpr":"replace(format(datum.value, '.1f'), '0.', '.')","tickSize":5,"labelPadding":3,"labelOverlap":false,"labelBound":false,"labelFlush":false}},
  "color":{"datum":"Actual","type":"nominal"}
 }},
{"data":{"name":"main"},"mark":{"type":"line","strokeWidth":1.6,"clip":true},
 "encoding":{
  "x":{"field":"t","type":"quantitative","scale":{"domain":[2007.98,2013.17],"nice":false,"zero":false},
   "axis":{"orient":"bottom","title":null,"values":[2008.0833,2008.1667,2008.3333,2008.4167,2008.5833,2008.6667,2008.8333,2008.9167,2009.0833,2009.1667,2009.3333,2009.4167,2009.5833,2009.6667,2009.8333,2009.9167,2010.0833,2010.1667,2010.3333,2010.4167,2010.5833,2010.6667,2010.8333,2010.9167,2011.0833,2011.1667,2011.3333,2011.4167,2011.5833,2011.6667,2011.8333,2011.9167,2012.0833,2012.1667,2012.3333,2012.4167,2012.5833,2012.6667,2012.8333,2012.9167,2013.0833,2013.1667],"labels":false,"tickSize":5}},
  "y":{"field":"f","type":"quantitative","scale":{"domain":[-0.904,0.3045],"nice":false,"zero":false},"axis":null},
  "color":{"datum":"Fitted","type":"nominal"}
 }}
],
"resolve":{"scale":{"y":"independent"},"axis":{"x":"independent","y":"independent"}}
}
